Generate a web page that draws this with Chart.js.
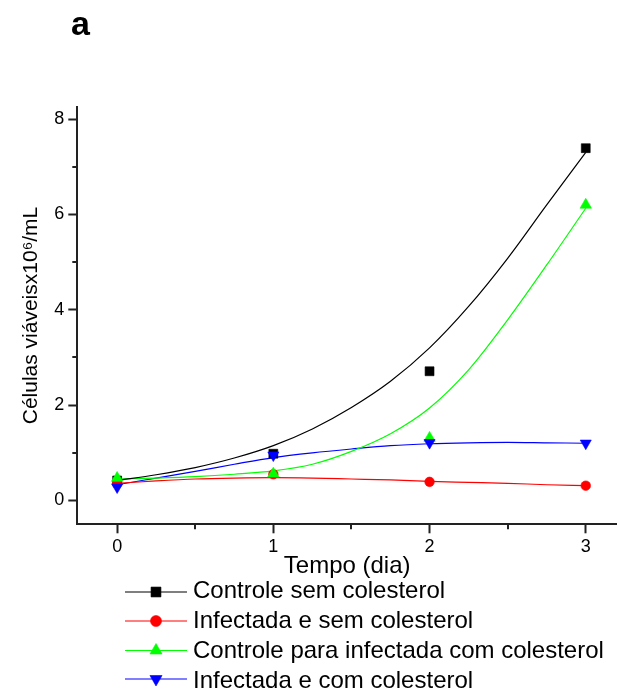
<!DOCTYPE html>
<html><head><meta charset="utf-8">
<script src="https://cdn.jsdelivr.net/npm/chart.js@4.4.1/dist/chart.umd.min.js"></script>
<style>
html,body{margin:0;padding:0;background:#fff;overflow:hidden;}
#wrap{position:relative;width:617px;height:691px;overflow:hidden;}
canvas{position:absolute;left:0;top:0;}
.lbl{position:absolute;font-family:"Liberation Sans",Arial,sans-serif;color:#000;white-space:nowrap;}
#panel{left:71px;top:6px;font-size:34px;line-height:34px;font-weight:bold;}
.leg{left:193px;font-size:24px;line-height:30px;}
</style></head><body>
<div id="wrap">
<canvas id="c" width="617" height="691"></canvas>
</div>
<script>
// ---- data ----
const panelLabel = 'a';
const xTitle = 'Tempo (dia)';
const yTitle = 'Células viáveisx10⁶/mL';
const seriesNames = [
  'Controle sem colesterol',
  'Infectada e sem colesterol',
  'Controle para infectada com colesterol',
  'Infectada e com colesterol'
];
const days = [0, 1, 2, 3];
const controleSem      = [0.42, 0.98, 2.71, 7.39];
const infectadaSem     = [0.35, 0.55, 0.39, 0.31];
const controleParaCom  = [0.47, 0.56, 1.31, 6.20];
const infectadaCom     = [0.28, 0.95, 1.21, 1.20];

// fitted curves at quarter-day steps
const fitDays = [0, 0.25, 0.5, 0.75, 1, 1.25, 1.5, 1.75, 2, 2.25, 2.5, 2.75, 3];
const fitControleSem     = [0.42, 0.54, 0.69, 0.89, 1.15, 1.50, 1.95, 2.50, 3.20, 4.07, 5.08, 6.20, 7.30];
const fitInfectadaSem    = [0.36, 0.41, 0.45, 0.47, 0.48, 0.47, 0.45, 0.43, 0.40, 0.38, 0.36, 0.33, 0.31];
const fitControleParaCom = [0.45, 0.47, 0.50, 0.55, 0.62, 0.76, 1.03, 1.40, 1.94, 2.74, 3.79, 4.94, 6.13];
const fitInfectadaCom    = [0.33, 0.47, 0.61, 0.76, 0.90, 1.00, 1.08, 1.15, 1.19, 1.21, 1.22, 1.21, 1.20];

const xTicks = [0, 1, 2, 3];
const yTicks = [0, 2, 4, 6, 8];
const xMinorTicks = [0.5, 1.5, 2.5];
const yMinorTicks = [1, 3, 5, 7];

// ---- styles ----
const FONT = '"Liberation Sans", Arial, sans-serif';
const AXIS = '#222222';
const colors = ['#000000', '#ff0000', '#00ff00', '#0000ff'];
const pStyles = ['rect', 'circle', 'triangle', 'triangle'];
const pRot = [0, 0, 0, 180];
const pRad = [6.3, 4.8, 6.6, 6.4];
const legRad = [7, 5.5, 7, 7];
const legY = [592, 621, 650.5, 679];
const legTextTop = [575, 605, 634.5, 664.5];

const points = [controleSem, infectadaSem, controleParaCom, infectadaCom];
const fits = [fitControleSem, fitInfectadaSem, fitControleParaCom, fitInfectadaCom];

const datasets = [];
fits.forEach((f, i) => {
  datasets.push({
    type: 'line',
    label: seriesNames[i] + ' (ajuste)',
    data: fitDays.map((x, k) => ({x: x, y: f[k]})),
    borderColor: colors[i],
    borderWidth: 1.2,
    pointRadius: 0,
    fill: false,
    cubicInterpolationMode: 'monotone',
    order: 10 + i
  });
});
points.forEach((p, i) => {
  datasets.push({
    type: 'scatter',
    label: seriesNames[i],
    data: days.map((x, k) => ({x: x, y: p[k]})),
    showLine: false,
    pointStyle: pStyles[i],
    pointRotation: pRot[i],
    pointRadius: pRad[i],
    pointBorderWidth: 0.6,
    backgroundColor: colors[i],
    borderColor: colors[i],
    order: 4 - i
  });
});

function drawMarker(ctx, i, x, y, r) {
  ctx.save();
  ctx.fillStyle = colors[i];
  ctx.strokeStyle = colors[i];
  ctx.lineWidth = 0.6;
  if (window.Chart && Chart.helpers && Chart.helpers.drawPoint) {
    Chart.helpers.drawPoint(ctx, {pointStyle: pStyles[i], rotation: pRot[i], radius: r, borderWidth: 0.6}, x, y);
  }
  ctx.restore();
}

const extras = {
  id: 'extras',
  afterDraw(chart) {
    const ctx = chart.ctx;
    const xs = chart.scales.x, ys = chart.scales.y;
    const area = chart.chartArea;
    ctx.save();
    ctx.strokeStyle = AXIS;
    ctx.lineWidth = 2;
    xMinorTicks.forEach(v => {
      const px = Math.round(xs.getPixelForValue(v));
      ctx.beginPath(); ctx.moveTo(px, area.bottom); ctx.lineTo(px, area.bottom + 5); ctx.stroke();
    });
    yMinorTicks.forEach(v => {
      const py = Math.round(ys.getPixelForValue(v));
      ctx.beginPath(); ctx.moveTo(area.left, py); ctx.lineTo(area.left - 5, py); ctx.stroke();
    });
    // legend sample lines + markers
    seriesNames.forEach((n, i) => {
      ctx.strokeStyle = colors[i];
      ctx.lineWidth = 1.2;
      ctx.beginPath(); ctx.moveTo(125, legY[i]); ctx.lineTo(187, legY[i]); ctx.stroke();
      drawMarker(ctx, i, 156, legY[i], legRad[i]);
    });
    ctx.restore();
  }
};

const tickFont = {family: FONT, size: 18};
new Chart(document.getElementById('c'), {
  data: {datasets: datasets},
  options: {
    responsive: false,
    animation: false,
    events: [],
    layout: {autoPadding: false, padding: {left: 0, right: 0, top: 106.7, bottom: 106.7}},
    plugins: {legend: {display: false}, tooltip: {enabled: false}},
    scales: {
      x: {
        type: 'linear',
        min: -0.255, max: 3.2,
        afterBuildTicks: s => { s.ticks = xTicks.map(v => ({value: v})); },
        afterFit: s => { s.height = 60; },
        ticks: {font: tickFont, color: '#000', padding: 2.5, maxRotation: 0, autoSkip: false, callback: v => String(v)},
        grid: {display: true, drawOnChartArea: false, drawTicks: true, tickLength: 9, tickWidth: 2, tickColor: AXIS},
        border: {display: true, width: 2, color: AXIS},
        title: {display: true, text: xTitle, color: '#000', font: {family: FONT, size: 24}, padding: {top: 0, bottom: 3.2}}
      },
      y: {
        type: 'linear',
        min: -0.5, max: 8.26,
        afterBuildTicks: s => { s.ticks = yTicks.map(v => ({value: v})); },
        afterFit: s => { s.width = 77.3; },
        ticks: {font: tickFont, color: '#000', padding: 4, autoSkip: false, callback: v => String(v)},
        grid: {display: true, drawOnChartArea: false, drawTicks: true, tickLength: 9, tickWidth: 2, tickColor: AXIS},
        border: {display: true, width: 2, color: AXIS},
        title: {display: true, text: yTitle, color: '#000', font: {family: FONT, size: 21}, padding: {top: 18.4, bottom: 0}}
      }
    }
  },
  plugins: [extras]
});

// HTML text: panel label and legend entries
const wrap = document.getElementById('wrap');
const pl = document.createElement('div');
pl.className = 'lbl'; pl.id = 'panel'; pl.textContent = panelLabel;
wrap.appendChild(pl);
seriesNames.forEach((n, i) => {
  const d = document.createElement('div');
  d.className = 'lbl leg';
  d.style.top = legTextTop[i] + 'px';
  d.textContent = n;
  wrap.appendChild(d);
});
</script>
</body></html>
